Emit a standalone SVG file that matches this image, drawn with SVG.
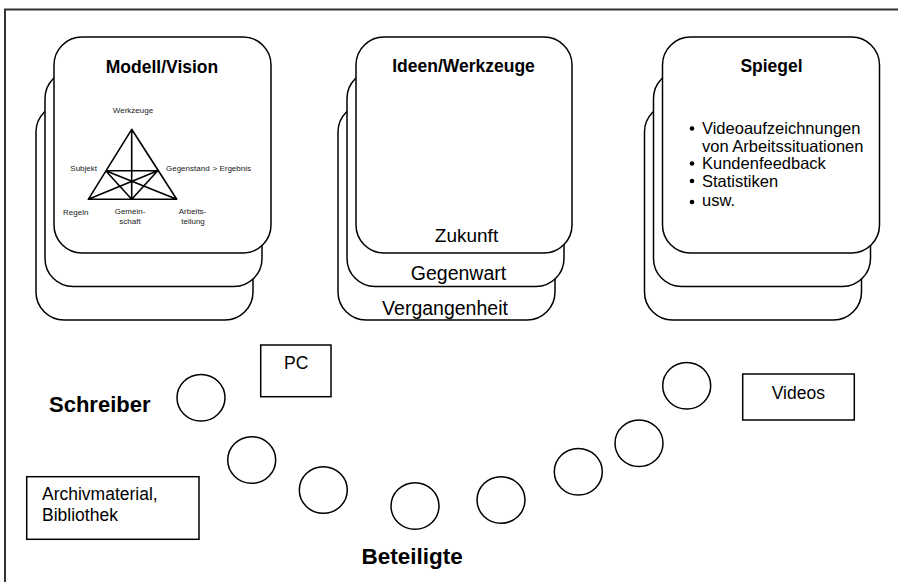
<svg xmlns="http://www.w3.org/2000/svg" width="898" height="582" viewBox="0 0 898 582">
<style>
.card{fill:#fff;stroke:#000;stroke-width:1.5}
.box{fill:#fff;stroke:#000;stroke-width:1.5}
.circ{fill:#fff;stroke:#000;stroke-width:1.5}
.tri{fill:none;stroke:#000;stroke-width:1.6;stroke-linejoin:round}
.t{font-family:"Liberation Sans",Arial,sans-serif;fill:#000}
.title{font-size:17.5px;font-weight:bold;text-anchor:middle}
.small{font-size:8px;fill:#222}
.mid{font-size:19.5px;text-anchor:middle}
.list{font-size:16.5px}
.lbl{font-size:17.5px}
.big{font-size:22px;font-weight:bold}
</style>
<rect width="898" height="582" fill="#fff"/>
<path d="M5,582 V9.5 H898" fill="none" stroke="#333" stroke-width="2"/>

<g id="modell">
<rect class="card" x="36" y="104" width="217" height="216" rx="28"/>
<rect class="card" x="45" y="70.5" width="217" height="216" rx="28"/>
<rect class="card" x="54" y="37" width="217" height="216" rx="28"/>
<text class="t title" x="162" y="73">Modell/Vision</text>
<path class="tri" d="M131.7,129.3 L88.3,199.3 L176.7,199.3 Z M131.7,129.3 V199.3 M105.7,170.7 H157.7 M105.7,170.7 L131.7,199.3 M105.7,170.7 L176.7,199.3 M157.7,170.7 L88.3,199.3 M157.7,170.7 L131.7,199.3"/>
<text class="t small" x="133" y="113" text-anchor="middle">Werkzeuge</text>
<text class="t small" x="97" y="171" text-anchor="end">Subjekt</text>
<text class="t small" x="166" y="171">Gegenstand</text>
<text class="t small" x="212.5" y="171">&gt; Ergebnis</text>
<text class="t small" x="63" y="215">Regeln</text>
<text class="t small" x="130" y="214" text-anchor="middle">Gemein-</text>
<text class="t small" x="130" y="224" text-anchor="middle">schaft</text>
<text class="t small" x="192.5" y="214" text-anchor="middle">Arbeits-</text>
<text class="t small" x="193" y="224" text-anchor="middle">teilung</text>
</g>

<g id="ideen">
<rect class="card" x="338" y="104" width="217" height="216" rx="28"/>
<rect class="card" x="347" y="70.5" width="217" height="216" rx="28"/>
<rect class="card" x="356" y="37" width="216" height="216" rx="28"/>
<text class="t title" x="463.5" y="72">Ideen/Werkzeuge</text>
<text class="t mid" x="466.5" y="242" style="font-size:19px">Zukunft</text>
<text class="t mid" x="458.5" y="279.5">Gegenwart</text>
<text class="t mid" x="445" y="315">Vergangenheit</text>
</g>

<g id="spiegel">
<rect class="card" x="644.5" y="104" width="217" height="216" rx="28"/>
<rect class="card" x="653.5" y="70.5" width="217" height="216" rx="28"/>
<rect class="card" x="662.5" y="37" width="217" height="216" rx="28"/>
<text class="t title" x="771.5" y="72">Spiegel</text>
<g class="t list">
<circle cx="692" cy="128.5" r="2.3"/>
<circle cx="692" cy="163.5" r="2.3"/>
<circle cx="692" cy="181" r="2.3"/>
<circle cx="692" cy="202" r="2.3"/>
<text x="702" y="134">Videoaufzeichnungen</text>
<text x="702" y="151.5">von Arbeitssituationen</text>
<text x="702" y="169">Kundenfeedback</text>
<text x="702" y="186.5">Statistiken</text>
<text x="702" y="205.5">usw.</text>
</g>
</g>

<g id="pc">
<rect class="box" x="260.7" y="345" width="70.3" height="51.7"/>
<text class="t lbl" x="284" y="369">PC</text>
</g>

<g id="archiv">
<rect class="box" x="26.7" y="476.7" width="172.3" height="62.6"/>
<text class="t lbl" x="42" y="500">Archivmaterial,</text>
<text class="t lbl" x="42" y="521">Bibliothek</text>
</g>

<g id="videos">
<rect class="box" x="742.7" y="374" width="111.6" height="46"/>
<text class="t lbl" x="798.3" y="398.5" text-anchor="middle">Videos</text>
</g>

<g id="schreiber">
<text class="t big" x="49" y="412">Schreiber</text>
</g>

<g id="beteiligte">
<text class="t big" x="361.5" y="563.5" style="font-size:22.5px">Beteiligte</text>
</g>

<g id="teilnehmer">
<ellipse class="circ" cx="201" cy="397.7" rx="24" ry="23.3"/>
<ellipse class="circ" cx="251.7" cy="460" rx="24" ry="23.3"/>
<ellipse class="circ" cx="323.3" cy="490" rx="24" ry="23.3"/>
<ellipse class="circ" cx="415" cy="506" rx="24" ry="23.3"/>
<ellipse class="circ" cx="501" cy="500" rx="24" ry="23.3"/>
<ellipse class="circ" cx="578.3" cy="471.7" rx="24" ry="23.3"/>
<ellipse class="circ" cx="639" cy="443.3" rx="24" ry="23.3"/>
<ellipse class="circ" cx="686.7" cy="385.7" rx="24" ry="23.3"/>
</g>

<g id="connectors"></g>
</svg>
